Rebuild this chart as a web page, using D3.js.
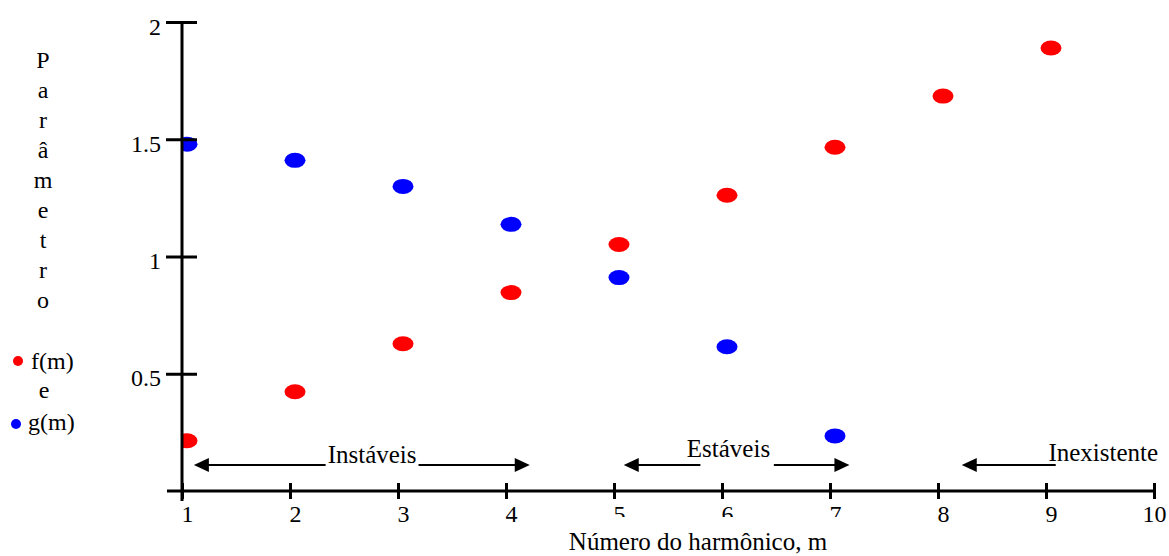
<!DOCTYPE html>
<html>
<head>
<meta charset="utf-8">
<script src="https://cdn.jsdelivr.net/npm/d3@7"></script>
<style>
  body { margin: 0; background: #fff; }
  svg text { font-family: "Liberation Serif", "Times New Roman", serif; fill: #000; }
</style>
</head>
<body>
<div id="chart"></div>
<script>
// Chart data
const harmonics = [1, 2, 3, 4, 5, 6, 7, 8, 9];
const fValues = [0.214, 0.423, 0.628, 0.846, 1.051, 1.261, 1.466, 1.684, 1.889];
const gHarmonics = [1, 2, 3, 4, 5, 6, 7];
const gValues = [1.479, 1.41, 1.299, 1.137, 0.91, 0.615, 0.235];
const xTicks = [1, 2, 3, 4, 5, 6, 7, 8, 9, 10];
const yTicks = [0.5, 1, 1.5, 2];
const yTitle = ["P", "a", "r", "â", "m", "e", "t", "r", "o"];

// Region labels (in harmonic units): left tip, left line end, text centre, right line start, right tip
const regionNames = ["Instáveis", "Estáveis", "Inexistente"];
const regionLeftTip = [1.11, 5.09, 8.22];
const regionLeftEnd = [2.33, 5.80, 9.09];
const regionText = [2.76, 6.06, 9.53];
const regionRightStart = [3.19, 6.48, null];
const regionRightTip = [4.22, 7.18, null];

const width = 1169;
const height = 556;

const svg = d3.select("#chart").append("svg")
    .attr("width", width)
    .attr("height", height);

const x = d3.scaleLinear().domain([1, 10]).range([182, 1154]);
const y = d3.scaleLinear().domain([0, 2]).range([491, 22]);
const shift = 5; // points and labels sit a little right of the tick marks

// clip so the first points hide behind the y axis
svg.append("clipPath").attr("id", "plot")
  .append("rect").attr("x", x(1) - 0.5).attr("y", 0).attr("width", width).attr("height", height);

const pts = svg.append("g").attr("clip-path", "url(#plot)");

pts.selectAll(".f")
    .data(harmonics)
    .enter().append("ellipse")
    .attr("cx", (d) => x(d) + shift)
    .attr("cy", (d, i) => y(fValues[i]))
    .attr("rx", 10.5)
    .attr("ry", 7.5)
    .attr("fill", "#ff0000");

pts.selectAll(".g")
    .data(gHarmonics)
    .enter().append("ellipse")
    .attr("cx", (d) => x(d) + shift)
    .attr("cy", (d, i) => y(gValues[i]))
    .attr("rx", 10.5)
    .attr("ry", 7.5)
    .attr("fill", "#0000ff");

// X axis
const xAxis = svg.append("g")
    .attr("transform", `translate(0,${y(0)})`)
    .call(d3.axisBottom(x).tickValues(xTicks).tickSize(8).tickFormat(d3.format("d")));
xAxis.select(".domain").remove();
xAxis.append("line")
    .attr("x1", 167).attr("x2", x(10))
    .attr("stroke", "#000").attr("stroke-width", 3);
xAxis.selectAll(".tick line").attr("y1", -8).attr("stroke-width", 3);
xAxis.selectAll(".tick text")
    .attr("y", 31).attr("dy", 0).attr("dx", (d) => d === 10 ? 0 : shift)
    .attr("font-size", 24)
    .attr("font-family", "Liberation Serif");

// Y axis
const yAxis = svg.append("g")
    .attr("transform", `translate(${x(1)},0)`)
    .call(d3.axisLeft(y).tickValues(yTicks).tickSize(16).tickFormat((d) => String(d)));
yAxis.select(".domain").remove();
yAxis.append("line")
    .attr("y1", y(2)).attr("y2", y(0) + 10)
    .attr("stroke", "#000").attr("stroke-width", 3);
yAxis.selectAll(".tick line").attr("x1", 15).attr("stroke-width", 3);
yAxis.selectAll(".tick text")
    .attr("x", -21).attr("dy", 0).attr("y", 12)
    .attr("font-size", 24)
    .attr("font-family", "Liberation Serif");

// box behind x title (covers part of a few tick labels, as in the original)
svg.append("rect")
    .attr("x", 598).attr("y", 517).attr("width", 245).attr("height", 39)
    .attr("fill", "#fff");

svg.append("text")
    .attr("x", 698).attr("y", 550)
    .attr("text-anchor", "middle")
    .attr("font-size", 25)
    .text("Número do harmônico, m");

// Vertical y title
svg.selectAll(".ytitle")
    .data(yTitle)
    .enter().append("text")
    .attr("x", 43)
    .attr("y", (d, i) => 68 + i * 30)
    .attr("text-anchor", "middle")
    .attr("font-size", 24)
    .text((d) => d);

// Legend
svg.append("circle").attr("cx", 18).attr("cy", 361).attr("r", 5).attr("fill", "#ff0000");
svg.append("text").attr("x", 31).attr("y", 369).attr("font-size", 24).text("f(m)");
svg.append("text").attr("x", 44).attr("y", 398).attr("text-anchor", "middle").attr("font-size", 24).text("e");
svg.append("circle").attr("cx", 16).attr("cy", 424).attr("r", 5).attr("fill", "#0000ff");
svg.append("text").attr("x", 28).attr("y", 430).attr("font-size", 24).text("g(m)");

// Region arrows
const arrowY = [465, 465, 465];
const textY = [463, 457, 461];

function arrowHead(tipX, yy, dir) {
  const len = 15, half = 7;
  svg.append("path")
      .attr("d", `M${tipX},${yy} L${tipX - dir * len},${yy - half} L${tipX - dir * len},${yy + half} Z`)
      .attr("fill", "#000");
}

regionNames.forEach((name, i) => {
  const yy = arrowY[i];
  svg.append("line")
      .attr("x1", x(regionLeftTip[i]) + 5).attr("x2", x(regionLeftEnd[i]))
      .attr("y1", yy).attr("y2", yy)
      .attr("stroke", "#000").attr("stroke-width", 2);
  arrowHead(x(regionLeftTip[i]), yy, -1);
  if (regionRightTip[i] !== null) {
    svg.append("line")
        .attr("x1", x(regionRightStart[i])).attr("x2", x(regionRightTip[i]) - 5)
        .attr("y1", yy).attr("y2", yy)
        .attr("stroke", "#000").attr("stroke-width", 2);
    arrowHead(x(regionRightTip[i]), yy, 1);
  }
  svg.append("text")
      .attr("x", x(regionText[i]))
      .attr("y", textY[i])
      .attr("text-anchor", "middle")
      .attr("font-size", 25)
      .text(name);
});
</script>
</body>
</html>
